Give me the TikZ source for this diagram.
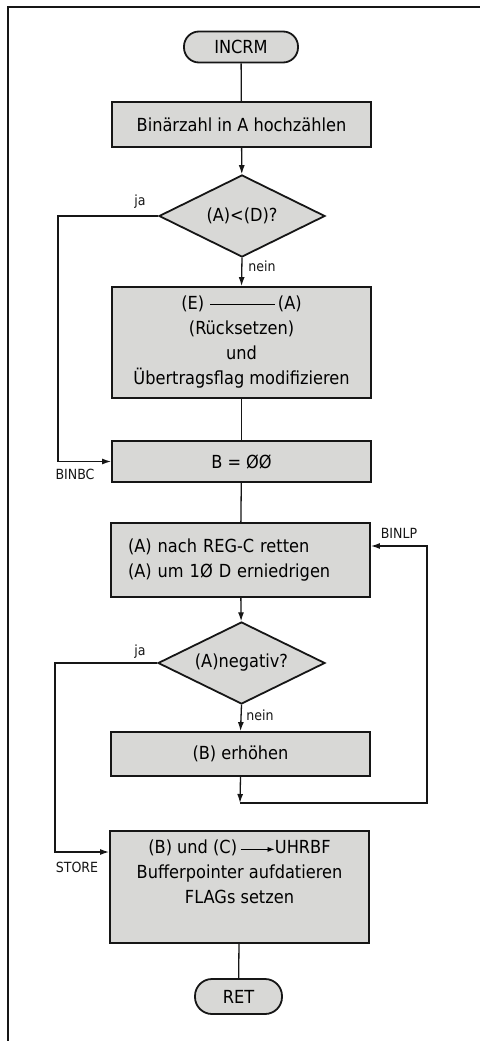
\documentclass[tikz,border=0pt]{standalone}
\usepackage{fontspec}
\setmainfont{DejaVu Sans Condensed}
\usetikzlibrary{arrows.meta,shapes.geometric}
\definecolor{Panel}{HTML}{D8D8D6}
\definecolor{Ink}{HTML}{161616}

\tikzset{
  procbox/.style={draw=Ink,fill=Panel,line width=1.8pt,minimum width=259pt,inner sep=0pt,font=\fontsize{18}{25}\selectfont},
  termbox/.style={draw=Ink,fill=Panel,line width=1.8pt,rounded corners=15pt,inner sep=0pt,font=\fontsize{18}{20}\selectfont},
  testbox/.style={diamond,aspect=2,draw=Ink,fill=Panel,line width=1.8pt,inner sep=0pt,font=\fontsize{18}{20}\selectfont},
  flow/.style={draw=Ink,line width=1.3pt},
  flowarr/.style={flow,-{Latex[length=9pt,width=6pt]}},
  tag/.style={font=\fontsize{14}{16}\selectfont,text=Ink}
}

\begin{document}
\begin{tikzpicture}[x=1pt,y=-1pt]
    \useasboundingbox (0,0) rectangle (480,1041);
    % frame
    \draw[Ink,line width=2pt] (8,1041) -- (8,7) -- (480,7);
    % boxes
    \node[termbox,minimum width=114pt,minimum height=31pt] (incrm) at (241,47) {INCRM};
    \node[procbox,minimum height=45pt] (count) at (241.5,124.5) {Binärzahl in A hochzählen};
    \node[testbox,minimum width=166pt,minimum height=82pt] (cmpd) at (242,216) {(A)<(D)?};
    \node[procbox,minimum height=111pt,align=center] (reset) at (241.5,342.5)
      {(E)\,\,\rule[0.3em]{3.6em}{0.7pt}\,(A)\\(Rücksetzen)\\und\\Übertragsflag modifizieren};
    \node[procbox,minimum height=41pt] (bzero) at (241.5,461.5) {B = ØØ};
    \node[procbox,minimum height=74pt,align=left,text width=225pt] (save) at (240.5,560)
      {(A) nach REG-C retten\\(A) um 1Ø D erniedrigen};
    \node[testbox,minimum width=167pt,minimum height=82pt] (cmpneg) at (241.5,663) {(A)negativ?};
    \node[procbox,minimum height=44pt] (incb) at (240.5,754) {(B) erhöhen};
    \node[procbox,minimum height=112pt,align=center,text depth=30pt] (store) at (239.5,887)
      {(B) und (C)\,\tikz[baseline=-0.45ex]\draw[line width=0.8pt,-{Latex[length=7pt,width=5pt]}] (0,0) -- (34pt,0);UHRBF\\Bufferpointer aufdatieren\\FLAGs setzen};
    \node[termbox,minimum width=87pt,minimum height=35pt,rounded corners=17pt] (ret) at (238.5,996.5) {RET};
    % corner points
    \coordinate (binbc) at (58,216);
    \coordinate (loopend) at (240,803);
    \coordinate (binlp) at (427,546);
    \coordinate (storein) at (55,852);
    % connectors
    \draw[flow] (incrm) -- (count);
    \draw[flowarr] (count) -- (cmpd);
    \draw[flowarr] (cmpd.west) -- (binbc) |- (bzero.west);
    \draw[flowarr] (cmpd.south) -- (reset.north);
    \draw[flow] (reset) -- (bzero);
    \draw[flow] (bzero) -- (save);
    \draw[flowarr] (save) -- (cmpneg);
    \draw[flowarr] (cmpneg.south) -- (incb.north);
    \draw[flowarr] (incb.south) -- (loopend);
    \draw[flowarr] (loopend) -| (binlp) -- (binlp -| save.east);
    \draw[flowarr] (cmpneg.west) -| (storein) -- (storein -| store.west);
    \draw[flow] (store) -- (ret);
    % labels
    \node[tag] (jaone) at (140,202) {ja};
    \node[tag] (neinone) at (262,266) {nein};
    \node[tag] (lblbinbc) at (75,474) {BINBC};
    \node[tag] (lblbinlp) at (399,533) {BINLP};
    \node[tag] (jatwo) at (140,652) {ja};
    \node[tag] (neintwo) at (260,715) {nein};
    \node[tag] (lblstore) at (77,867) {STORE};
\end{tikzpicture}
\end{document}
